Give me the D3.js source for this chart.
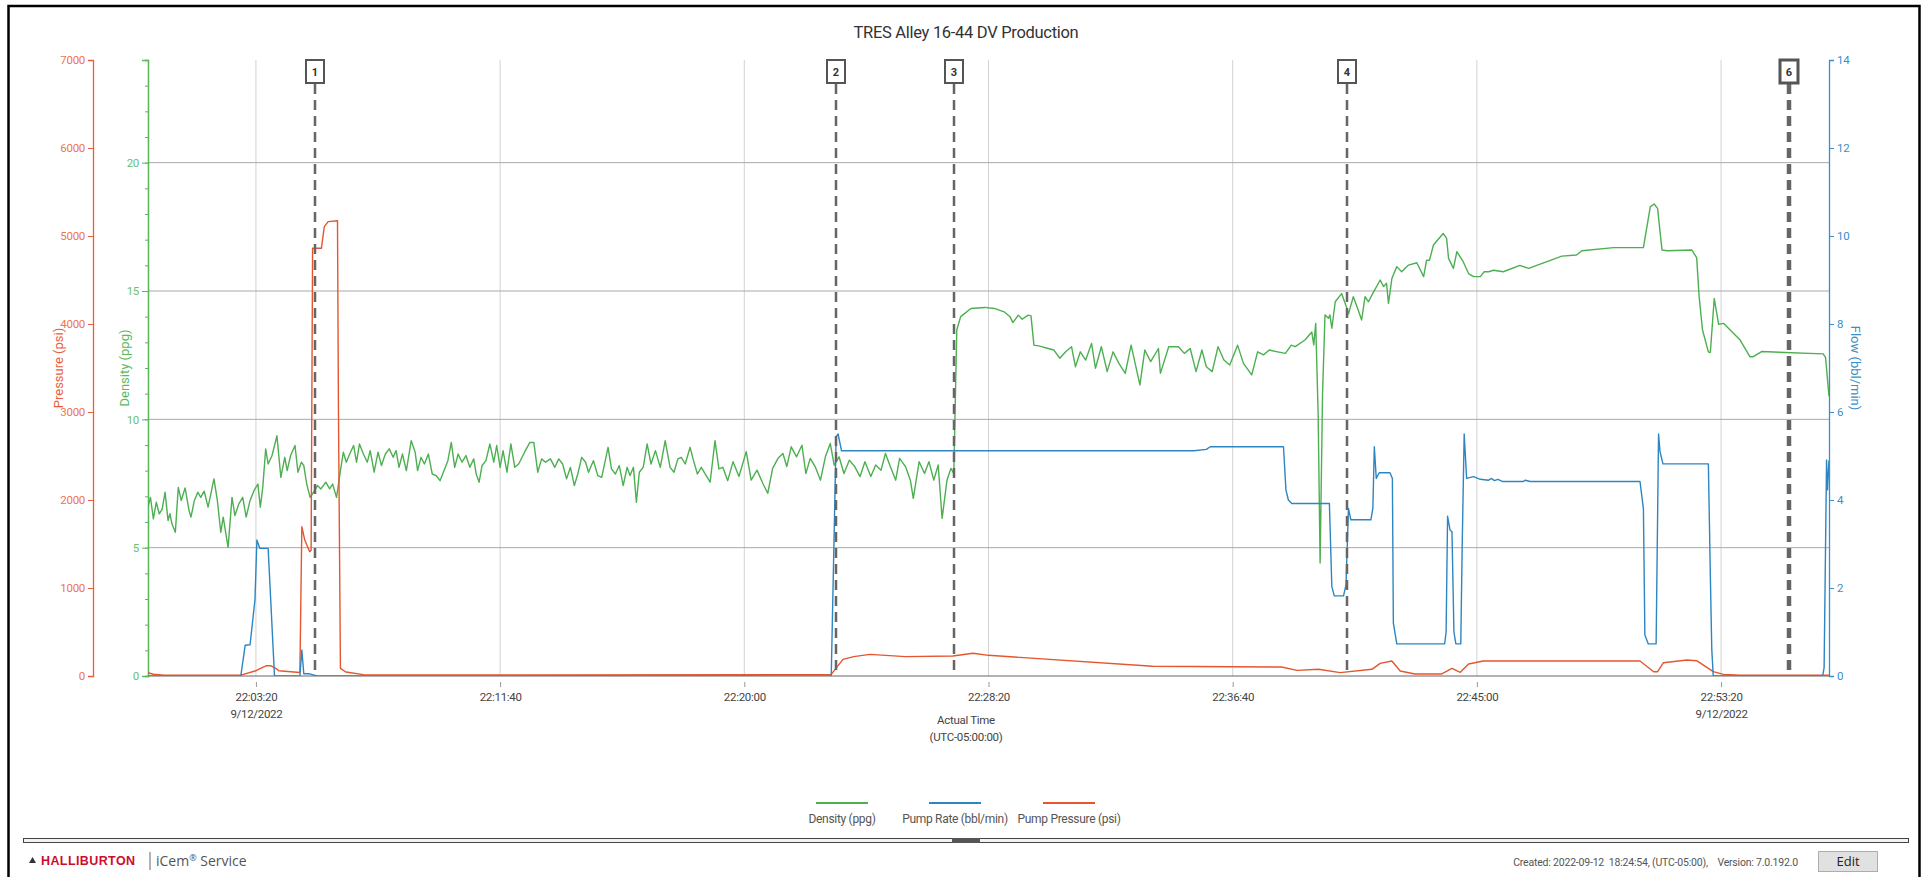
<!DOCTYPE html>
<html>
<head>
<meta charset="utf-8">
<script src="https://cdn.jsdelivr.net/npm/d3@7"></script>
<style>
    body { margin: 0; background: #fff; overflow: hidden; }
    text { font-family: Roboto, 'Liberation Sans', sans-serif; }
</style>
</head>
<body>
<script>

const chartTitle = 'TRES Alley 16-44 DV Production'
const baseTime = '2022-09-12 22:03:20'
const timeTicks = ['22:03:20', '22:11:40', '22:20:00', '22:28:20', '22:36:40', '22:45:00', '22:53:20']
const dateTicks = ['22:03:20', '22:53:20']
const pressureTicks = [0, 1000, 2000, 3000, 4000, 5000, 6000, 7000]
const densityTicks = [0, 5, 10, 15, 20]
const flowTicks = [0, 2, 4, 6, 8, 10, 12, 14]

// seconds after 22:03:20
const markers = [
    {label: '1', t: 121},
    {label: '2', t: 1188},
    {label: '3', t: 1430},
    {label: '4', t: 2234},
    {label: '6', t: 3139, heavy: true}
]

const densityPoints = [
    [-221,6.6],[-216,6.96],[-210,6.12],[-204,6.77],[-198,6.32],[-192,6.5],[-186,7.16],[-180,6.06],[-176,6.32],[-172,5.93],
    [-165,5.6],[-159,7.35],[-153,6.84],[-145,7.33],[-137,6.45],[-133,6.19],[-126,6.84],[-119,7.16],[-113,6.96],[-106,7.2],
    [-98,6.58],[-86,7.68],[-79,6.84],[-72,5.6],[-67,6.19],[-57,5.01],[-49,6.96],[-43,6.25],[-35,6.71],[-27,6.96],
    [-20,6.19],[-12,6.84],[-4,7.22],[4,7.48],[9,6.58],[14,7.35],[20,8.85],[25,8.26],[33,8.59],[43,9.36],
    [51,7.74],[59,8.52],[64,8.0],[71,8.59],[80,8.98],[86,7.94],[93,8.33],[98,8.2],[104,7.48],[111,6.96],
    [118,7.16],[126,7.42],[133,7.29],[143,7.55],[151,7.29],[157,7.48],[165,6.96],[173,8.0],[179,8.72],[185,8.33],
    [192,8.65],[200,8.98],[206,8.33],[212,9.04],[220,8.65],[228,8.33],[234,8.78],[242,7.94],[250,8.72],[257,8.2],
    [265,8.65],[273,8.85],[281,8.52],[287,8.78],[293,8.13],[300,8.65],[308,8.0],[318,9.17],[326,8.72],[331,8.0],
    [338,8.52],[345,8.26],[353,8.65],[361,7.87],[369,7.81],[377,7.61],[385,8.0],[393,8.39],[400,9.1],[407,8.13],
    [414,8.65],[422,8.33],[430,8.59],[438,8.13],[446,8.46],[451,7.87],[457,7.55],[463,8.2],[471,8.39],[479,9.04],
    [487,8.33],[493,8.98],[500,8.13],[506,8.78],[514,7.94],[522,9.04],[530,8.13],[538,8.26],[550,8.72],[561,9.1],
    [569,9.1],[577,7.94],[585,8.46],[593,8.33],[603,8.46],[612,8.13],[620,8.46],[628,8.26],[636,7.68],[644,8.13],
    [652,7.42],[659,7.87],[667,8.52],[675,8.33],[681,7.94],[691,8.39],[700,7.81],[708,7.74],[721,8.91],[728,8.07],
    [736,7.87],[744,8.2],[752,7.42],[760,8.13],[766,7.81],[773,8.13],[779,6.77],[785,7.94],[793,8.13],[801,9.04],
    [809,8.26],[818,8.78],[828,8.13],[838,9.17],[848,8.13],[856,7.94],[864,8.46],[871,8.52],[879,8.26],[889,8.91],
    [896,8.39],[904,7.87],[912,8.13],[922,7.81],[930,7.55],[940,9.17],[948,8.07],[956,8.13],[966,7.61],[977,8.35],
    [989,7.77],[1004,8.74],[1014,7.63],[1026,8.02],[1038,7.5],[1048,7.12],[1058,8.09],[1069,8.48],[1079,8.67],[1087,8.16],
    [1096,8.93],[1107,8.54],[1118,8.99],[1126,7.89],[1135,8.48],[1145,8.16],[1156,7.63],[1166,8.54],[1176,9.06],[1184,8.22],
    [1194,8.54],[1204,7.89],[1215,8.41],[1226,8.16],[1237,7.77],[1247,8.35],[1259,7.77],[1269,8.22],[1280,8.02],[1289,8.67],
    [1299,8.16],[1310,7.63],[1318,8.48],[1330,8.16],[1340,7.63],[1346,6.92],[1358,8.35],[1369,7.89],[1378,8.35],[1388,7.63],
    [1397,8.22],[1405,6.14],[1415,7.63],[1423,8.09],[1429,7.89],[1435,13.48],[1443,14.0],[1464,14.32],[1492,14.36],[1512,14.32],
    [1532,14.19],[1544,14.0],[1550,13.77],[1561,14.06],[1569,13.9],[1581,14.06],[1587,14.03],[1593,12.89],[1605,12.85],[1622,12.76],
    [1634,12.7],[1646,12.38],[1658,12.63],[1670,12.83],[1678,12.05],[1688,12.63],[1699,12.31],[1711,12.96],[1719,11.99],[1731,12.83],
    [1743,11.86],[1755,12.63],[1767,12.18],[1780,11.79],[1792,12.89],[1810,11.34],[1820,12.7],[1832,12.25],[1848,12.76],[1852,11.79],
    [1869,12.83],[1889,12.83],[1901,12.57],[1913,12.76],[1925,11.86],[1937,12.7],[1946,12.05],[1958,11.86],[1970,12.83],[1982,12.31],
    [1994,12.12],[2010,12.89],[2022,12.18],[2039,11.73],[2051,12.63],[2063,12.51],[2075,12.7],[2092,12.63],[2108,12.57],[2120,12.89],
    [2128,12.83],[2148,13.09],[2162,13.4],[2166,12.9],[2170,13.74],[2175,10.2],[2179,4.4],[2184,11.0],[2189,14.07],[2196,13.94],
    [2199,14.07],[2203,13.55],[2210,14.58],[2223,14.9],[2234,14.32],[2237,14.1],[2247,14.78],[2257,14.26],[2264,13.87],[2271,14.78],
    [2278,14.58],[2285,14.84],[2302,15.43],[2309,15.17],[2315,15.3],[2319,14.52],[2326,15.49],[2336,15.95],[2346,15.75],[2360,16.01],
    [2377,16.1],[2391,15.56],[2397,16.2],[2403,16.2],[2411,16.79],[2431,17.24],[2438,17.05],[2442,16.27],[2452,15.88],[2459,16.53],
    [2472,16.14],[2483,15.68],[2493,15.56],[2507,15.56],[2515,15.75],[2524,15.75],[2534,15.81],[2554,15.75],[2588,16.0],[2606,15.88],
    [2674,16.36],[2704,16.4],[2715,16.57],[2780,16.69],[2841,16.69],[2855,18.28],[2863,18.39],[2870,18.22],[2879,16.6],[2890,16.57],
    [2940,16.6],[2950,16.3],[2955,14.8],[2962,13.48],[2974,12.63],[2978,12.6],[2986,14.71],[2995,13.7],[3005,13.74],[3039,13.09],
    [3059,12.44],[3066,12.44],[3083,12.64],[3209,12.55],[3214,12.4],[3221,10.9]
]

const flowPoints = [
    [-221,0],[-31,0],[-22,0.7],[-12,0.71],[-2,1.73],[2,3.09],[8,2.9],[25,2.9],[38,0],[90,0],
    [94,0.59],[98,0.05],[110,0.05],[125,0],[1178,0],[1188,5.44],[1192,5.5],[1199,5.12],[1921,5.12],[1946,5.15],
    [1954,5.21],[2104,5.21],[2109,4.23],[2114,4.0],[2121,3.92],[2198,3.92],[2203,2.03],[2208,1.82],[2227,1.82],[2232,2.07],
    [2237,3.81],[2242,3.55],[2283,3.55],[2287,3.81],[2290,5.21],[2294,4.49],[2300,4.62],[2322,4.62],[2327,4.49],[2329,1.2],
    [2336,0.73],[2434,0.73],[2437,1.0],[2440,3.63],[2445,3.32],[2449,3.28],[2453,1.0],[2457,0.73],[2467,0.73],[2470,3.0],
    [2474,5.5],[2479,4.49],[2493,4.53],[2507,4.47],[2524,4.45],[2530,4.49],[2536,4.44],[2543,4.47],[2553,4.42],[2595,4.42],
    [2599,4.45],[2609,4.42],[2834,4.42],[2841,3.8],[2844,0.93],[2851,0.73],[2867,0.73],[2872,5.5],[2875,5.1],[2881,4.82],
    [2974,4.82],[2978,2.3],[2981,0.6],[2984,0],[3208,0],[3211,0.19],[3216,4.91],[3218,4.23],[3221,4.9]
]

const pressurePoints = [
    [-221,38],[-210,20],[-188,10],[-31,10],[0,60],[15,100],[22,117],[30,117],[40,90],[47,60],
    [90,40],[94,1697],[100,1545],[110,1413],[113,1430],[116,4860],[134,4860],[140,5106],[148,5163],[167,5174],
    [169,3000],[173,87],[184,45],[220,15],[600,12],[1000,15],[1178,19],[1202,189],[1224,220],[1257,246],
    [1330,220],[1427,227],[1468,258],[1500,235],[1836,110],[2100,102],[2132,64],[2176,76],[2220,38],[2285,76],
    [2302,144],[2326,170],[2343,57],[2373,23],[2428,23],[2449,87],[2466,42],[2483,136],[2513,170],[2834,170],
    [2862,49],[2870,49],[2882,151],[2930,182],[2950,174],[2984,49],[3005,19],[3039,8],[3221,8]
]

const legendItems = [
    {label: 'Density (ppg)', color: '#4caf50', x: 842},
    {label: 'Pump Rate (bbl/min)', color: '#2d86c1', x: 955},
    {label: 'Pump Pressure (psi)', color: '#e4572e', x: 1069}
]

let plot = {left: 148, right: 1829, top: 60, bottom: 676}

const parseTime = d3.timeParse('%Y-%m-%d %H:%M:%S')
const base = parseTime(baseTime)
function toDate(s){
    return new Date(base.getTime() + s * 1000)
}
function clockDate(label){
    return parseTime(baseTime.slice(0, 11) + label)
}

function setupChart(){

    const svg = d3.select('body')
        .append('svg')
        .attr('width', 1922)
        .attr('height', 877)

    svg.append('rect')
        .attr('x', 8.5).attr('y', 6)
        .attr('width', 1911).attr('height', 900)
        .attr('fill', 'none')
        .attr('stroke', '#000')
        .attr('stroke-width', 2.5)

    svg.append('text')
        .text(chartTitle)
        .attr('x', 966).attr('y', 38)
        .attr('text-anchor', 'middle')
        .style('font-size', '16.5px')
        .style('letter-spacing', '-0.3px')
        .attr('fill', '#333')

    const x = d3.scaleTime()
        .domain([toDate(-221), toDate(3221)])
        .range([plot.left, plot.right])
    const pressureY = d3.scaleLinear().domain([0, 7000]).range([plot.bottom, plot.top])
    const densityY = d3.scaleLinear().domain([0, 24]).range([plot.bottom, plot.top])
    const flowY = d3.scaleLinear().domain([0, 14]).range([plot.bottom, plot.top])

    // grid
    svg.append('g')
        .selectAll('line')
        .data(timeTicks)
        .join('line')
        .attr('x1', d => x(clockDate(d))).attr('x2', d => x(clockDate(d)))
        .attr('y1', plot.top).attr('y2', plot.bottom)
        .attr('stroke', '#d2d2d2')

    svg.append('g')
        .selectAll('line')
        .data(densityTicks.filter(d => d > 0))
        .join('line')
        .attr('x1', plot.left).attr('x2', plot.right)
        .attr('y1', d => densityY(d)).attr('y2', d => densityY(d))
        .attr('stroke', '#a9a9a9')

    svg.append('line')
        .attr('x1', plot.left).attr('x2', plot.right)
        .attr('y1', plot.bottom).attr('y2', plot.bottom)
        .attr('stroke', '#666')

    // x axis
    const xAxis = svg.append('g')
        .attr('transform', getTranslateString(0, plot.bottom + 6))
        .call(d3.axisBottom(x)
            .tickValues(timeTicks.map(clockDate))
            .tickFormat(d3.timeFormat('%H:%M:%S'))
            .tickSize(5))
    xAxis.select('.domain').remove()
    xAxis.selectAll('.tick line').attr('stroke', '#999')
    xAxis.selectAll('.tick text')
        .attr('fill', '#444')
        .style('font-size', '11.5px')
        .style('letter-spacing', '-0.3px')
        .attr('y', 11)
    xAxis.selectAll('.tick')
        .filter(d => dateTicks.includes(d3.timeFormat('%H:%M:%S')(d)))
        .append('text')
        .text(d => d3.timeFormat('%-m/%-d/%Y')(d))
        .attr('fill', '#444')
        .attr('y', 28)
        .attr('dy', '0.71em')
        .style('font-size', '11.5px')
        .style('letter-spacing', '-0.3px')

    svg.append('text')
        .text('Actual Time')
        .attr('x', 966).attr('y', 724)
        .attr('text-anchor', 'middle')
        .attr('fill', '#444')
        .style('font-size', '11.5px')
        .style('letter-spacing', '-0.3px')
    svg.append('text')
        .text('(UTC-05:00:00)')
        .attr('x', 966).attr('y', 741)
        .attr('text-anchor', 'middle')
        .attr('fill', '#444')
        .style('font-size', '11.5px')
        .style('letter-spacing', '-0.3px')

    // y axes
    addAxis(svg, d3.axisLeft(pressureY).tickValues(pressureTicks).tickFormat(d3.format('d')).tickSize(5), 93, '#e8603b', '#ec7553')
    addAxis(svg, d3.axisLeft(densityY).tickValues(d3.range(0, 25)).tickSize(3).tickFormat(''), plot.left, '#5cb85c', '#6cc070')
    addAxis(svg, d3.axisLeft(densityY).tickValues(densityTicks).tickSize(6), plot.left, '#5cb85c', '#6cc070')
    addAxis(svg, d3.axisRight(flowY).tickValues(flowTicks).tickSize(5), plot.right, '#3a8fc8', '#3a8fc8')

    addAxisTitle(svg, 'Pressure (psi)', 58, -90, '#e8603b')
    addAxisTitle(svg, 'Density (ppg)', 124, -90, '#5cb85c')
    addAxisTitle(svg, 'Flow (bbl/min)', 1855, 90, '#3a8fc8')

    // series
    svg.append('clipPath').attr('id', 'plotClip')
        .append('rect')
        .attr('x', plot.left).attr('y', plot.top - 2)
        .attr('width', plot.right - plot.left).attr('height', plot.bottom - plot.top + 2)

    const series = svg.append('g').attr('clip-path', 'url(#plotClip)')
    addSeries(series, densityPoints, x, densityY, '#4caf50')
    addSeries(series, pressurePoints, x, pressureY, '#e4572e')
    addSeries(series, flowPoints, x, flowY, '#2d86c1')

    addMarkers(svg, markers, x)

    addLegend(svg, legendItems)
    addFooter(svg)
}

function addAxis(svg, axis, left, lineColor, textColor){
    const g = svg.append('g')
        .attr('transform', getTranslateString(left, 0))
        .call(axis)
    g.select('.domain').attr('stroke', lineColor).attr('stroke-width', 1.3)
    g.selectAll('.tick line').attr('stroke', lineColor)
    g.selectAll('.tick text')
        .attr('fill', textColor)
        .style('font-size', '11.5px')
        .style('letter-spacing', '-0.3px')
    return g
}

function addAxisTitle(svg, label, x, angle, color){
    svg.append('text')
        .text(label)
        .attr('transform', getTranslateString(x, 368) + ' rotate(' + angle + ')')
        .attr('text-anchor', 'middle')
        .attr('dominant-baseline', 'central')
        .attr('fill', color)
        .style('font-size', '13px')
}

function addSeries(g, points, x, y, color){
    const line = d3.line()
        .x(d => x(toDate(d[0])))
        .y(d => y(d[1]))
    g.append('path')
        .datum(points)
        .attr('d', line)
        .attr('fill', 'none')
        .attr('stroke', color)
        .attr('stroke-width', 1.4)
        .attr('stroke-linejoin', 'round')
}

function addMarkers(svg, markers, x){

    const groups = svg.append('g')
        .selectAll('g')
        .data(markers, d => d.label)
        .join('g')
        .attr('transform', d => getTranslateString(Math.round(x(toDate(d.t))), 0))

    groups.append('line')
        .attr('y1', 84).attr('y2', 670)
        .attr('stroke', '#666')
        .attr('stroke-width', d => d.heavy ? 4.5 : 2.5)
        .attr('stroke-dasharray', '10,6')

    groups.append('rect')
        .attr('x', -9).attr('y', 60)
        .attr('width', 18).attr('height', 23)
        .attr('fill', '#fff')
        .attr('stroke', '#555')
        .attr('stroke-width', d => d.heavy ? 3 : 2)

    groups.append('text')
        .text(d => d.label)
        .attr('y', 76)
        .attr('text-anchor', 'middle')
        .attr('fill', '#333')
        .style('font-size', '11px')
        .style('font-weight', 'bold')
}

function addLegend(svg, items){

    const groups = svg.append('g')
        .selectAll('g')
        .data(items)
        .join('g')
        .attr('transform', d => getTranslateString(d.x, 0))

    groups.append('line')
        .attr('x1', -26).attr('x2', 26)
        .attr('y1', 803).attr('y2', 803)
        .attr('stroke', d => d.color)
        .attr('stroke-width', 2)

    groups.append('text')
        .text(d => d.label)
        .attr('y', 823)
        .attr('text-anchor', 'middle')
        .attr('fill', '#555')
        .style('font-size', '12px')
        .style('letter-spacing', '-0.3px')
}

function addFooter(svg){

    svg.append('rect')
        .attr('x', 23.5).attr('y', 838.5)
        .attr('width', 1885).attr('height', 4)
        .attr('fill', '#f2f2f2')
        .attr('stroke', '#444')
    svg.append('rect')
        .attr('x', 952).attr('y', 838)
        .attr('width', 28).attr('height', 5)
        .attr('fill', '#555')

    svg.append('path')
        .attr('d', 'M29,863 L32.5,857 L36,863 Z')
        .attr('fill', '#333')

    svg.append('text')
        .text('HALLIBURTON')
        .attr('x', 41).attr('y', 865)
        .attr('fill', '#cc0d2e')
        .style('font-family', "'Liberation Sans', Arial, sans-serif")
        .style('font-weight', 'bold')
        .style('font-size', '12.5px')
        .style('letter-spacing', '0.4px')

    svg.append('line')
        .attr('x1', 150).attr('x2', 150)
        .attr('y1', 852).attr('y2', 870)
        .attr('stroke', '#666')

    const brand = svg.append('text')
        .attr('x', 156).attr('y', 866)
        .attr('fill', '#555')
        .style('font-family', "'Open Sans', sans-serif")
        .style('font-size', '14px')
    brand.append('tspan').text('iCem')
    brand.append('tspan').text('®').attr('dy', -5).style('font-size', '9px')
    brand.append('tspan').text(' Service').attr('dy', 5)

    svg.append('text')
        .text('Created: 2022-09-12  18:24:54, (UTC-05:00),    Version: 7.0.192.0')
        .attr('x', 1798).attr('y', 866)
        .attr('text-anchor', 'end')
        .attr('fill', '#555')
        .style('font-size', '10.5px')
        .style('letter-spacing', '-0.2px')
        .style('white-space', 'pre')

    svg.append('rect')
        .attr('x', 1818.5).attr('y', 851.5)
        .attr('width', 59).attr('height', 20)
        .attr('fill', '#e1e1e1')
        .attr('stroke', '#adadad')
    svg.append('text')
        .text('Edit')
        .attr('x', 1848).attr('y', 866)
        .attr('text-anchor', 'middle')
        .attr('fill', '#222')
        .style('font-family', "'Open Sans', sans-serif")
        .style('font-size', '13px')
}

function getTranslateString(x, y){
    return 'translate(' + x + ',' + y + ')'
}

setupChart()

</script>
</body>
</html>
